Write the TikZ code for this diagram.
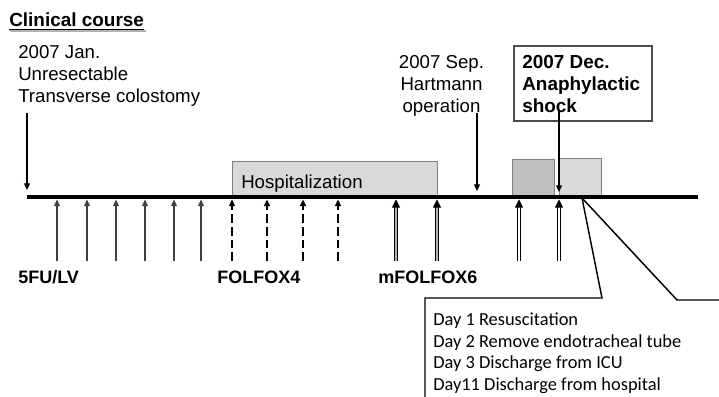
\documentclass[tikz,border=0pt]{standalone}
\usepackage{fontspec}
\setmainfont{Liberation Sans}
\newfontfamily\calfont{Carlito}
\usetikzlibrary{arrows.meta}
\begin{document}
\begin{tikzpicture}[x=0.75pt,y=-0.75pt,>={Triangle[length=5pt,width=4.5pt]},
  txt/.style={inner sep=0pt,font=\fontsize{14}{16.5}\selectfont},
  btxt/.style={txt,font=\fontsize{14.2}{16.5}\selectfont\bfseries},
  lbl/.style={inner sep=0pt,font=\fontsize{13.5}{16}\selectfont\bfseries},
  stay/.style={draw=gray,line width=0.6pt},
  fu/.style={->,draw=black!75,line width=0.9pt},
  fox/.style={->,line width=2.2pt,dash pattern=on 6.5pt off 3pt},
  mfox/.style={-{Triangle[length=6pt,width=6pt]},draw=black,double=gray!60,double distance=2pt,line width=0.6pt},
  open/.style={-{Triangle[length=6pt,width=6pt]},draw=black,double=white,double distance=1.5pt,line width=0.6pt}]
\useasboundingbox (0,0) rectangle (719,397);
% title
\node[btxt,anchor=base west] (title) at (9,26.5) {Clinical course};
\draw[gray!60,line width=1.4pt] ([shift={(1pt,-3.6pt)}]title.base west) -- ([shift={(1pt,-3.6pt)}]title.base east);
\draw[line width=1.4pt] ([yshift=-2.2pt]title.base west) -- ([yshift=-2.2pt]title.base east);
% stays in hospital
\fill[black!15,stay] (232,161) rectangle (437,197);
\node[txt,anchor=base west] (hosp) at (241,188) {Hospitalization};
\fill[black!25,stay] (512,159) rectangle (554,197);
\fill[black!15,stay] (559,158) rectangle (601,197);
% events above the axis (base = last line)
\node[txt,anchor=base west,align=left] (jan) at (18,102.5) {2007 Jan.\\Unresectable\\Transverse colostomy};
\node[txt,anchor=base,align=center] (sep) at (441.5,112.5) {2007 Sep.\\Hartmann\\operation};
\draw[black!70,line width=0.8pt] (514,46) rectangle (652,121);
\node[btxt,anchor=base west,align=left] (dec) at (522,112.5) {2007 Dec.\\Anaphylactic\\shock};
\coordinate (janT) at (27,113); \coordinate (janB) at (27,190);
\coordinate (sepT) at (477,113); \coordinate (sepB) at (477,191);
\coordinate (decT) at (559,110); \coordinate (decB) at (559,192);
\draw[->,line width=0.9pt] (janT) -- (janB);
\draw[->,line width=0.9pt] (sepT) -- (sepB);
\draw[->,line width=0.9pt] (decT) -- (decB);
% time axis
\coordinate (L) at (27,197); \coordinate (R) at (698,197);
\draw[line width=2.4pt] (L) -- (R);
% chemotherapy
\foreach \x in {57,87,116,145,174,201}
  \draw[fu] (\x,261) -- (\x,199.5);
\foreach \x in {232,267,303,338}
  \draw[fox] (\x,261) -- (\x,199.5);
\foreach \x in {396,437}
  \draw[mfox] (\x,261) -- (\x,199.5);
\foreach \x in {519,559}
  \draw[open] (\x,261) -- (\x,199.5);
\node[lbl,anchor=base west] (fulv) at (18,283) {5FU/LV};
\node[lbl,anchor=base west] (fox4) at (217,283) {FOLFOX4};
\node[lbl,anchor=base west] (fox6) at (378,283) {mFOLFOX6};
% course after shock
\coordinate (apex) at (582,198);
\coordinate (c1) at (602,298); \coordinate (c2) at (425,298); \coordinate (c3) at (425,397);
\coordinate (c4) at (677,300); \coordinate (c5) at (719,300);
\draw[line width=1.1pt] (c3) -- (c2) -- (c1) -- (apex) -- (c4) -- (c5);
\node[inner sep=0pt,anchor=base west,align=left,font=\calfont\fontsize{13.8}{16.1}\selectfont] (days) at (433,390)
  {Day 1 Resuscitation\\Day 2 Remove endotracheal tube\\Day 3 Discharge from ICU\\Day11 Discharge from hospital};
\end{tikzpicture}
\end{document}
